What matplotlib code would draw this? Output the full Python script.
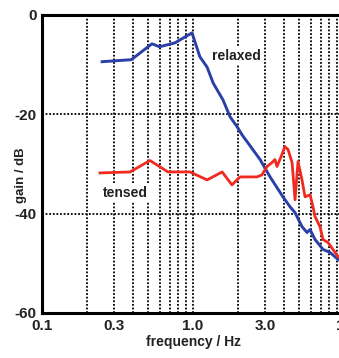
import matplotlib.pyplot as plt
from matplotlib.ticker import FixedLocator, NullFormatter

plt.rcParams['font.family'] = ['Liberation Sans', 'DejaVu Sans']
plt.rcParams['font.weight'] = 'bold'
plt.rcParams['axes.unicode_minus'] = False

# relaxed (blue) frequency response
relaxed_f = [0.25, 0.39, 0.535, 0.60, 0.76, 0.985, 1.11, 1.24, 1.36, 1.58, 1.76, 1.96,
             2.11, 2.78, 3.24, 3.94, 4.39, 4.74, 5.27, 5.69, 5.96, 6.43, 7.26, 8.07, 9.12, 10.0]
relaxed_g = [-9.4, -9.0, -5.8, -6.4, -5.6, -3.6, -8.4, -10.5, -13.7, -17.1, -20.5, -22.5,
             -24.1, -29.1, -32.6, -36.6, -38.6, -39.8, -42.6, -43.8, -43.2, -45.2, -47.2, -47.8, -49.2, -49.8]

# tensed (red) frequency response
tensed_f = [0.242, 0.383, 0.519, 0.683, 0.955, 1.24, 1.56, 1.81, 2.05, 2.65, 2.86, 3.09,
            3.34, 3.49, 3.60, 3.88, 4.06, 4.26, 4.53, 4.74, 4.96, 5.27, 5.52, 5.96, 6.23,
            6.43, 6.93, 7.26, 7.83, 8.45, 9.12, 10.0]
tensed_g = [-31.8, -31.6, -29.3, -31.6, -31.6, -33.2, -31.6, -34.2, -32.6, -32.6, -32.2, -30.5,
            -29.7, -29.1, -30.5, -28.1, -26.5, -27.1, -29.7, -37.2, -29.5, -33.2, -36.6, -36.2, -38.6,
            -40.6, -42.6, -45.2, -45.8, -47.2, -48.6, -49.6]

xticks = [0.1, 0.3, 1.0, 3.0, 10]
xticklabels = ['0.1', '0.3', '1.0', '3.0', '10']
yticks = [0, -20, -40, -60]

fig = plt.figure(figsize=(3.39, 3.58), dpi=100)
ax = fig.add_axes([42 / 339, 45 / 358, 302 / 339, 298 / 358])

ax.plot(relaxed_f, relaxed_g, color='#2b3fa8', lw=2.1)
ax.plot(tensed_f, tensed_g, color='#f02a1e', lw=2.0)

ax.set_xscale('log')
ax.set_xlim(0.1, 10)
ax.set_ylim(-60, 0)

ax.xaxis.set_major_locator(FixedLocator(xticks))
ax.set_xticklabels(xticklabels)
grid_x = [0.2, 0.3, 0.4, 0.5, 0.6, 0.7, 0.8, 0.9, 1, 2, 3, 4, 5, 6, 7, 8, 9]
ax.xaxis.set_minor_locator(FixedLocator(grid_x))
ax.xaxis.set_minor_formatter(NullFormatter())
ax.set_yticks(yticks)

for gx in grid_x:
    ax.axvline(gx, color='black', ls=(0, (1, 1)), lw=1.3, zorder=0)
for gy in [-20, -40]:
    ax.axhline(gy, color='black', ls=(0, (1, 1)), lw=1.3, zorder=0)

ax.tick_params(which='both', length=0, labelsize=11, pad=4)
for lab in ax.get_xticklabels() + ax.get_yticklabels():
    lab.set_fontweight('bold')
    lab.set_color('#222222')

for s in ax.spines.values():
    s.set_linewidth(2.2)

ax.set_xlabel('frequency / Hz', fontsize=10, fontweight='bold', labelpad=2, color='#222222')
ax.set_ylabel('gain / dB', fontsize=9.5, fontweight='bold', color='#222222')
ax.yaxis.set_label_coords(-0.05, 0.463)

box = dict(facecolor='white', edgecolor='none', pad=1.5)
ax.text(1.93, -8.2, 'relaxed', fontsize=10, fontweight='bold', ha='center', va='center',
        color='#222222', bbox=box, zorder=1)
ax.text(0.355, -35.8, 'tensed', fontsize=10, fontweight='bold', ha='center', va='center',
        color='#222222', bbox=box, zorder=1)

fig.savefig('out.png', dpi=100)
